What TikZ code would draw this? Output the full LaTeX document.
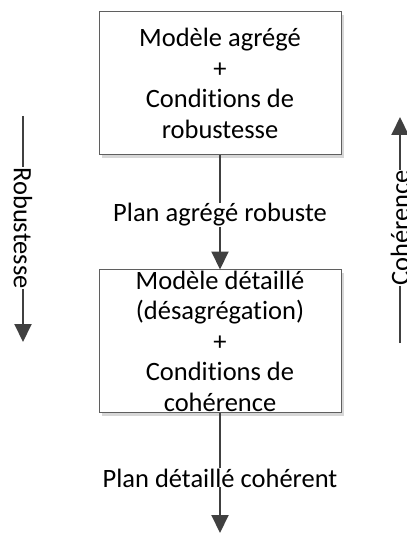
\documentclass[tikz,border=0pt]{standalone}
\usepackage{fontspec}
\setmainfont{Carlito}[Ligatures={NoCommon}]
\usetikzlibrary{arrows.meta}
\definecolor{boxgray}{RGB}{95,95,95}
\definecolor{shadowgray}{RGB}{215,215,215}
\definecolor{linegray}{RGB}{64,64,64}
\begin{document}
\begin{tikzpicture}[x=1pt,y=-1pt,
  boxst/.style={draw=boxgray, line width=1pt, fill=white, minimum width=242pt, minimum height=143pt, inner sep=0pt, outer sep=0pt},
  shadowst/.style={fill=shadowgray, draw=none, minimum width=242pt, minimum height=143pt, inner sep=0pt, outer sep=0pt},
  txt/.style={font=\fontsize{26.5}{30.5}\selectfont, align=center, inner sep=0pt, text=black},
  conn/.style={draw=linegray, line width=2pt},
  arr/.style={conn, -{Triangle[length=18pt,width=17pt]}},
]
\useasboundingbox (0,0) rectangle (406,534);
% boxes
\node[shadowst] (sh1) at (223,86.5) {};
\node[boxst] (box1) at (220,83.5) {};
\node[txt] (t1) at (220,83.5) {Modèle agrégé\\+\\Conditions de\\robustesse};
\node[shadowst] (sh2) at (223,344) {};
\node[boxst] (box2) at (220,341) {};
\node[txt] (t2) at (220,341) {Modèle détaillé\\(désagrégation)\\+\\Conditions de\\cohérence};
% central flow
\node[txt, anchor=base] (l1) at (220,222) {Plan agrégé robuste};
\node[txt, anchor=base] (l2) at (220,487) {Plan détaillé cohérent};
\coordinate (end) at (220,533);
\draw[conn] (box1.south) -- (l1.north);
\draw[arr] (l1.south) -- (box2.north);
\draw[conn] (box2.south) -- (l2.north);
\draw[arr] (l2.south) -- (end);
% side arrows
\coordinate (rs) at (23,116);
\coordinate (re) at (23,342);
\node[txt, rotate=-90] (rob) at (23,228) {Robustesse};
\draw[conn] (rs) -- (rob.west);
\draw[arr] (rob.east) -- (re);
\coordinate (cs) at (400,343);
\coordinate (ce) at (400,117);
\node[txt, rotate=90] (coh) at (400,228) {Cohérence};
\draw[conn] (cs) -- (coh.west);
\draw[arr] (coh.east) -- (ce);
\end{tikzpicture}
\end{document}
